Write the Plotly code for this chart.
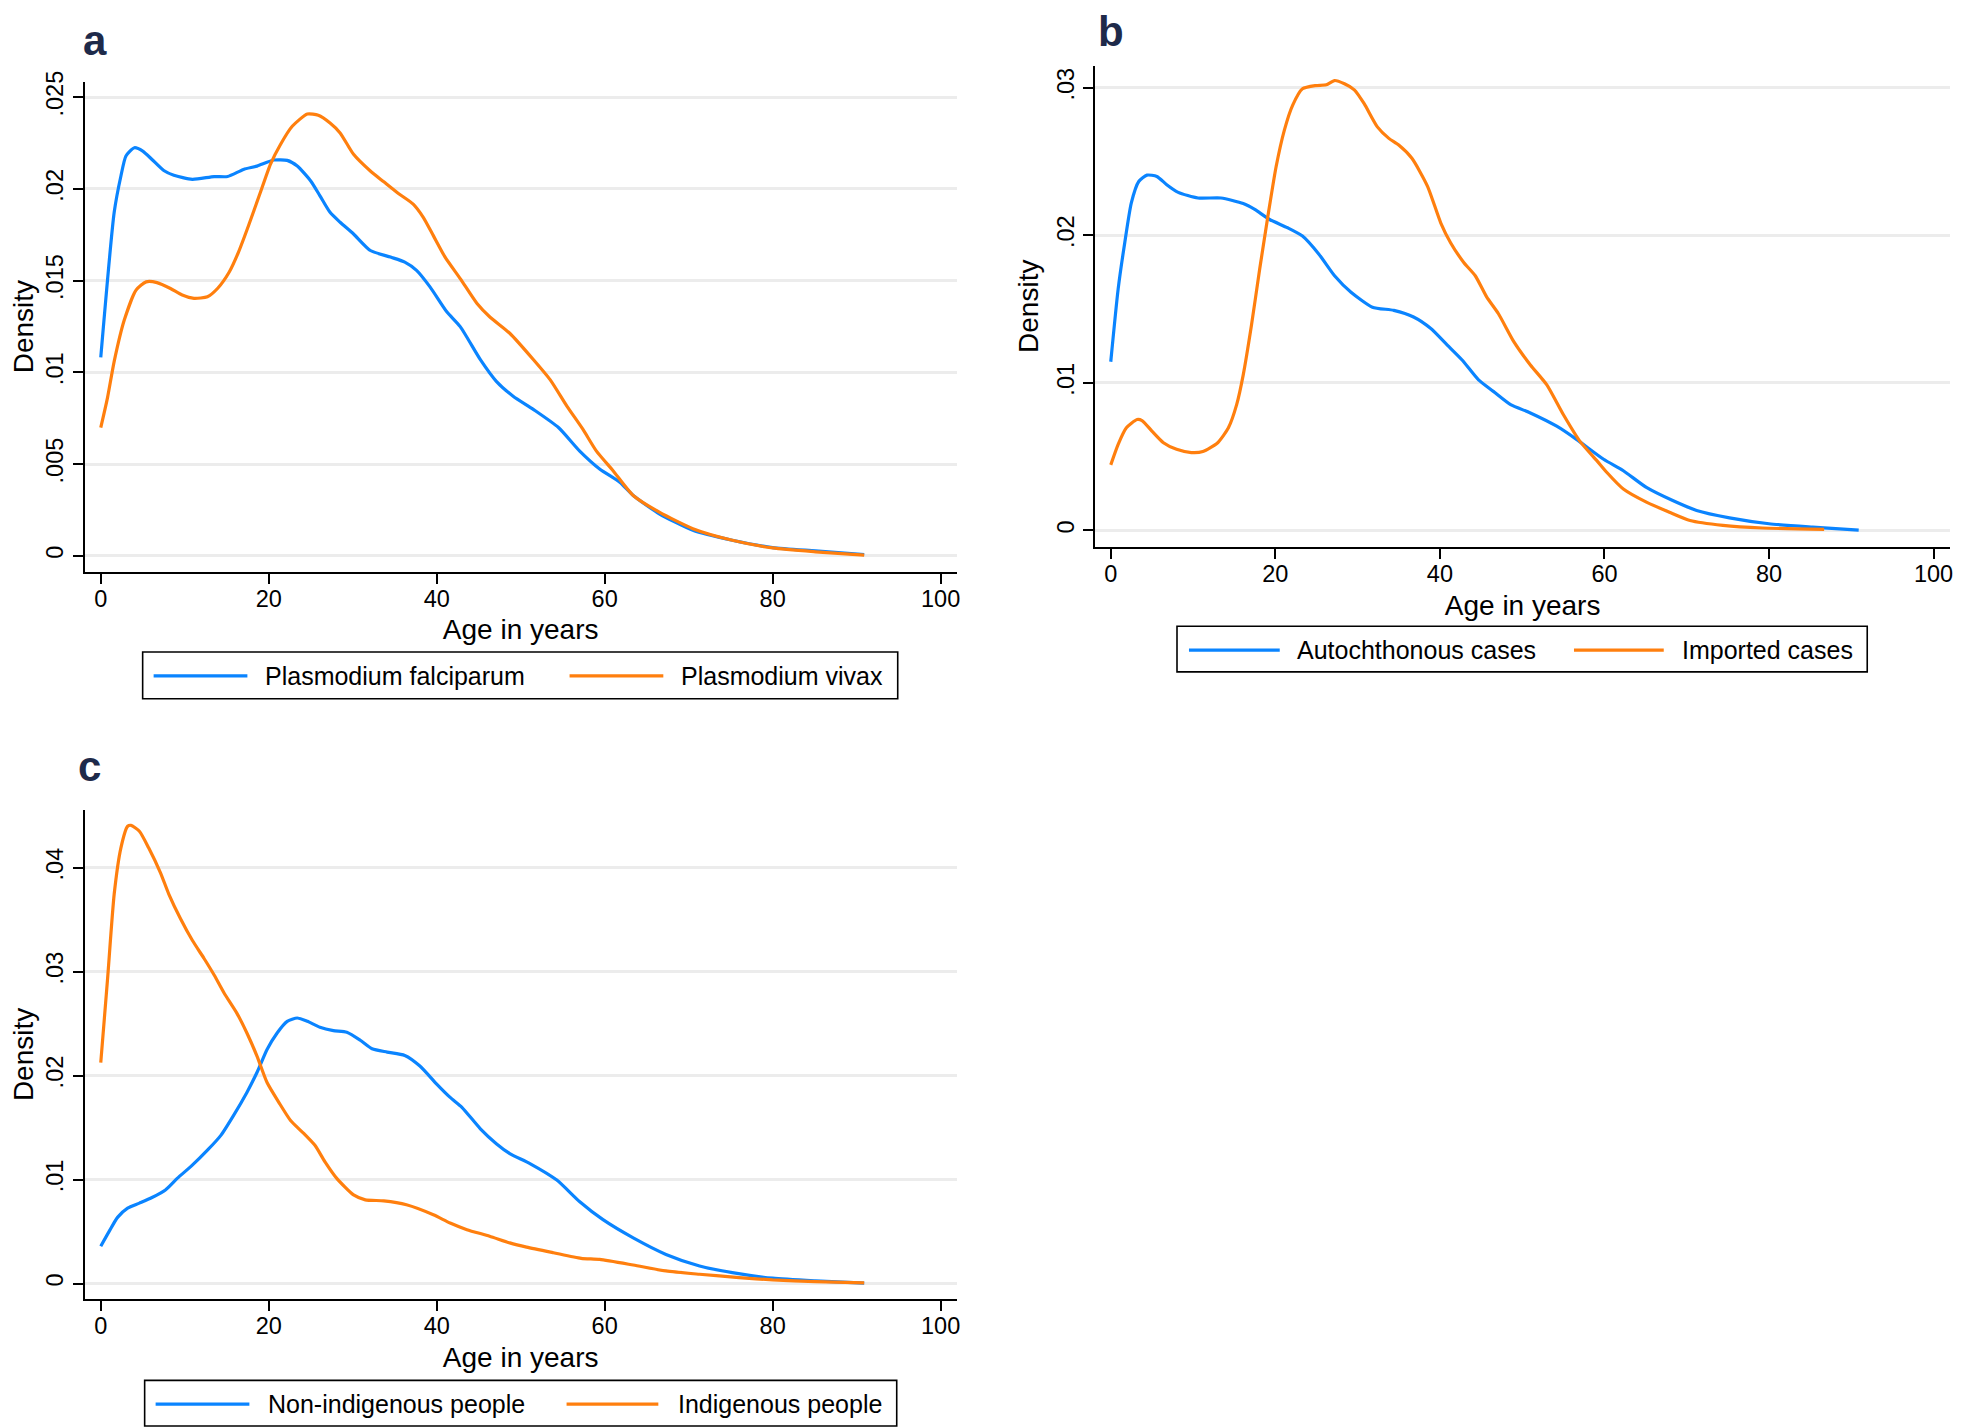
import plotly.graph_objects as go

# ---------------- data ----------------
# Panel a
a_falc_age = [0, 1.6, 2.4, 3.0, 4.0, 5.0, 6.1, 7.5, 8.7, 10.9, 13.5, 15.1, 17.0, 18.6,
              20.6, 22.2, 23.4, 25.0, 26.1, 27.3, 28.5, 30.1, 32.1, 34.5, 36.2, 37.6,
              39.2, 41.2, 42.8, 45.2, 47.1, 49.1, 51.5, 54.5, 57.0, 59.4, 61.8, 63.4,
              66.5, 70.5, 75.2, 80.0, 85.1, 90.9]
a_falc_den = [0.01081, 0.01872, 0.0207, 0.02179, 0.02224, 0.02206, 0.0216, 0.0210, 0.02074,
              0.02052, 0.02067, 0.02067, 0.02106, 0.02124, 0.02157, 0.02155, 0.02124,
              0.02043, 0.01962, 0.01872, 0.01818, 0.01754, 0.01664, 0.01628, 0.01601,
              0.01556, 0.01466, 0.0133, 0.01249, 0.01069, 0.00951, 0.0087, 0.00798,
              0.00699, 0.00572, 0.00473, 0.00401, 0.00329, 0.00229, 0.00139, 0.00085,
              0.00045, 0.00027, 0.00007]
a_viv_age = [0, 0.8, 1.6, 2.8, 4.2, 5.4, 6.7, 8.3, 9.7, 11.1, 12.7, 13.9, 15.3, 16.4,
             17.6, 19.0, 20.2, 21.4, 22.8, 24.6, 25.9, 27.3, 28.5, 30.1, 32.1, 33.7,
             35.4, 37.2, 38.4, 39.6, 41.0, 42.8, 44.8, 46.3, 48.7, 51.5, 53.5, 55.5,
             57.4, 59.0, 61.0, 63.4, 66.5, 70.5, 75.2, 80.0, 85.1, 90.9]
a_viv_den = [0.00699, 0.00861, 0.0106, 0.01285, 0.01448, 0.01493, 0.01489, 0.01457,
             0.01421, 0.01403, 0.01412, 0.01457, 0.01547, 0.01655, 0.018, 0.0198,
             0.02134, 0.02242, 0.02341, 0.02408, 0.02401, 0.02359, 0.02305, 0.02188,
             0.02097, 0.02038, 0.01976, 0.01917, 0.01845, 0.01745, 0.01628, 0.01511,
             0.01375, 0.01303, 0.01213, 0.0107, 0.0096, 0.00816, 0.0069, 0.00572,
             0.00464, 0.00329, 0.00238, 0.00148, 0.00085, 0.00043, 0.00022, 0.00004]

# Panel b
b_auto_age = [0, 0.9, 1.7, 2.5, 3.4, 4.4, 5.6, 6.8, 8.2, 10.6, 13.4, 16.1, 17.5, 19.3,
              21.5, 23.3, 25.3, 27.2, 29.2, 31.8, 34.4, 36.8, 38.9, 40.9, 42.7, 44.7,
              46.5, 48.6, 51.0, 54.2, 56.6, 59.9, 62.3, 65.1, 68.3, 71.2, 75.2, 80.0,
              85.3, 90.9]
b_auto_den = [0.01143, 0.01637, 0.0195, 0.0222, 0.02365, 0.02408, 0.02399, 0.02343,
              0.02291, 0.02253, 0.02253, 0.02215, 0.02175, 0.02107, 0.02051, 0.01995,
              0.01872, 0.01726, 0.01614, 0.01513, 0.01491, 0.01446, 0.01368, 0.01256,
              0.01155, 0.0102, 0.00942, 0.00852, 0.00796, 0.00706, 0.00617, 0.00482,
              0.00404, 0.00291, 0.00202, 0.00135, 0.00085, 0.00045, 0.00022, 0.00002]
b_imp_age = [0, 0.9, 1.9, 3.2, 3.8, 5.0, 6.4, 8.0, 9.8, 11.2, 13.0, 14.3, 15.3, 16.1,
             17.1, 18.1, 19.1, 20.1, 21.1, 22.1, 23.3, 24.9, 26.2, 27.2, 28.4, 29.6,
             30.8, 32.4, 33.8, 35.0, 36.6, 38.5, 40.1, 41.3, 42.9, 44.3, 45.7, 47.1,
             49.0, 51.0, 53.0, 55.0, 57.0, 59.1, 60.3, 62.3, 65.1, 67.9, 70.4, 74.4,
             79.2, 86.7]
b_imp_den = [0.00444, 0.00583, 0.00695, 0.00751, 0.00744, 0.00673, 0.00594, 0.00549,
             0.00527, 0.00534, 0.00594, 0.00695, 0.00852, 0.01054, 0.0139, 0.01771,
             0.0213, 0.02466, 0.02713, 0.02881, 0.02993, 0.03015, 0.0302, 0.03049,
             0.03027, 0.02986, 0.02892, 0.02735, 0.02657, 0.02612, 0.02522, 0.02332,
             0.02085, 0.0195, 0.01816, 0.01726, 0.01581, 0.0147, 0.01278, 0.01121,
             0.00986, 0.00785, 0.00605, 0.00471, 0.00392, 0.0028, 0.00191, 0.00123,
             0.00067, 0.00034, 0.00016, 0.00007]

# Panel c
c_non_age = [0, 1.0, 2.0, 3.2, 4.6, 6.1, 7.7, 9.1, 10.9, 12.7, 14.3, 15.8, 17.4, 18.6,
             19.8, 21.0, 22.2, 23.4, 24.6, 26.1, 27.7, 29.3, 30.9, 32.3, 34.1, 36.2,
             38.0, 40.0, 41.6, 43.0, 45.2, 47.1, 48.7, 51.1, 54.3, 57.0, 59.8, 63.4,
             67.3, 71.3, 75.2, 80.0, 85.1, 90.9]
c_non_den = [0.00359, 0.00502, 0.00636, 0.00725, 0.00773, 0.00827, 0.009, 0.01011,
             0.01138, 0.01282, 0.01425, 0.01615, 0.01838, 0.02029, 0.02251, 0.0241,
             0.02522, 0.02554, 0.02522, 0.02465, 0.02433, 0.02417, 0.0234, 0.02258,
             0.02226, 0.02194, 0.02092, 0.01918, 0.0179, 0.01695, 0.01488, 0.01345,
             0.0125, 0.01154, 0.00995, 0.00789, 0.00614, 0.00439, 0.0028, 0.00169,
             0.00105, 0.00051, 0.00025, 0.00004]
c_ind_age = [0, 0.8, 1.6, 2.4, 3.2, 3.6, 4.6, 5.7, 7.1, 8.1, 9.5, 10.9, 12.3, 13.5,
             14.7, 16.2, 17.4, 18.6, 19.8, 21.2, 22.6, 24.2, 25.5, 26.7, 28.1, 30.1,
             31.5, 33.7, 36.4, 39.6, 41.6, 43.6, 46.3, 48.7, 50.7, 53.9, 57.2, 59.4,
             63.4, 67.3, 71.3, 76.0, 80.0, 85.1, 90.9]
c_ind_den = [0.02124, 0.0292, 0.03746, 0.04191, 0.04398, 0.04407, 0.0435, 0.04191,
             0.03953, 0.03746, 0.03508, 0.03301, 0.03126, 0.02967, 0.02792, 0.02601,
             0.0241, 0.02188, 0.01933, 0.01743, 0.01568, 0.01441, 0.01329, 0.0117,
             0.01011, 0.00852, 0.00805, 0.00795, 0.00757, 0.00661, 0.00582, 0.00518,
             0.00455, 0.00391, 0.0035, 0.00296, 0.00242, 0.00232, 0.00178, 0.00121,
             0.00089, 0.00057, 0.00035, 0.00019, 0.00006]

x_tickvals = [0, 20, 40, 60, 80, 100]
x_ticktext = ["0", "20", "40", "60", "80", "100"]
a_yvals = [0, 0.005, 0.01, 0.015, 0.02, 0.025]
a_ytext = ["0", ".005", ".01", ".015", ".02", ".025"]
b_yvals = [0, 0.01, 0.02, 0.03]
b_ytext = ["0", ".01", ".02", ".03"]
c_yvals = [0, 0.01, 0.02, 0.03, 0.04]
c_ytext = ["0", ".01", ".02", ".03", ".04"]

a_names = ["Plasmodium falciparum", "Plasmodium vivax"]
b_names = ["Autochthonous cases", "Imported cases"]
c_names = ["Non-indigenous people", "Indigenous people"]

# ---------------- styling ----------------
OFF = 8                      # page body margin of the html page
W, H = 1961 - OFF, 1428 - OFF
BLUE = "#0a84ff"
ORANGE = "#ff7f0e"
FONT = "Liberation Sans, Arial, Helvetica, sans-serif"
LETTER = "#1e2a4a"


def fx(x):
    return (x - OFF) / W


def fy(y):
    return 1 - (y - OFF) / H


fig = go.Figure()

panels = [
    dict(sfx="", xpx=(84, 958), ypx=(71, 565), xr=[-1.9, 101.9], yr=[-0.000865, 0.02585],
         yv=a_yvals, yt=a_ytext, ystand=15,
         series=[(a_falc_age, a_falc_den, BLUE, a_names[0]), (a_viv_age, a_viv_den, ORANGE, a_names[1])]),
    dict(sfx="2", xpx=(1097, 1954), ypx=(55, 540), xr=[-1.89, 102.0], yr=[-0.00112, 0.0315],
         yv=b_yvals, yt=b_ytext, ystand=6,
         series=[(b_auto_age, b_auto_den, BLUE, b_names[0]), (b_imp_age, b_imp_den, ORANGE, b_names[1])]),
    dict(sfx="3", xpx=(84, 958), ypx=(805, 1298), xr=[-1.9, 101.9], yr=[-0.00149, 0.04556],
         yv=c_yvals, yt=c_ytext, ystand=13,
         series=[(c_non_age, c_non_den, BLUE, c_names[0]), (c_ind_age, c_ind_den, ORANGE, c_names[1])]),
]

for p in panels:
    s = p["sfx"]
    for xs, ys, col, name in p["series"]:
        fig.add_trace(go.Scatter(x=xs, y=ys, mode="lines", name=name, showlegend=False,
                                 line=dict(color=col, width=3.2, shape="spline", smoothing=0.6),
                                 xaxis="x" + s, yaxis="y" + s, hoverinfo="skip"))
    xa = dict(domain=[fx(p["xpx"][0]), fx(p["xpx"][1])], range=p["xr"], anchor="y" + s,
              tickvals=x_tickvals, ticktext=x_ticktext, showgrid=False, zeroline=False,
              showline=True, linecolor="black", linewidth=2, ticks="outside", ticklen=10,
              tickwidth=2, tickcolor="black", tickfont=dict(size=23.5, color="black", family=FONT),
              ticklabelstandoff=-5,
              title=dict(text="Age in years", font=dict(size=28, color="black", family=FONT), standoff=9),
              fixedrange=True)
    ya = dict(domain=[fy(p["ypx"][1]), fy(p["ypx"][0])], range=p["yr"], anchor="x" + s,
              tickvals=p["yv"], ticktext=p["yt"], tickangle=-90, showgrid=True,
              gridcolor="#ececec", gridwidth=2.6, zeroline=False, showline=True,
              linecolor="black", linewidth=2, ticks="outside", ticklen=10, tickwidth=2,
              tickcolor="black", tickfont=dict(size=23.5, color="black", family=FONT),
              title=dict(text="Density", font=dict(size=28, color="black", family=FONT),
                         standoff=p["ystand"]),
              fixedrange=True)
    fig.layout["xaxis" + s] = xa
    fig.layout["yaxis" + s] = ya

# ---------------- legends (boxes drawn as in the original) ----------------
shapes = []
annotations = []
legends = [
    dict(box=(142, 646, 899, 693), yc=670, l1=(153, 247), t1=263, l2=(570, 664), t2=680, names=a_names),
    dict(box=(1179, 620, 1871, 666), yc=644, l1=(1191, 1282), t1=1297, l2=(1577, 1667), t2=1683, names=b_names),
    dict(box=(144, 1380, 898, 1426), yc=1404, l1=(155, 249), t1=266, l2=(567, 659), t2=677, names=c_names),
]
for lg in legends:
    x0, y0, x1, y1 = lg["box"]
    shapes.append(dict(type="rect", xref="paper", yref="paper", x0=fx(x0), x1=fx(x1),
                       y0=fy(y1), y1=fy(y0), line=dict(color="black", width=1.6),
                       fillcolor="white", layer="above"))
    for (la, lb), tx, col, name in [(lg["l1"], lg["t1"], BLUE, lg["names"][0]),
                                    (lg["l2"], lg["t2"], ORANGE, lg["names"][1])]:
        shapes.append(dict(type="line", xref="paper", yref="paper", x0=fx(la), x1=fx(lb),
                           y0=fy(lg["yc"]), y1=fy(lg["yc"]), line=dict(color=col, width=3.2),
                           layer="above"))
        annotations.append(dict(text=name, xref="paper", yref="paper", x=fx(tx), y=fy(lg["yc"]),
                                xanchor="left", yanchor="middle", showarrow=False,
                                font=dict(size=25, color="black", family=FONT)))

# panel letters
for letter, cx, cy in [("a", 94, 30), ("b", 1113, 21), ("c", 89, 761)]:
    annotations.append(dict(text="<b>%s</b>" % letter, xref="paper", yref="paper", x=fx(cx), y=fy(cy),
                            xanchor="center", yanchor="middle", showarrow=False, borderpad=0,
                            font=dict(size=42, color=LETTER, family=FONT)))

fig.update_layout(width=W, height=H, margin=dict(l=0, r=0, t=0, b=0),
                  paper_bgcolor="white", plot_bgcolor="white",
                  shapes=shapes, annotations=annotations, showlegend=False,
                  font=dict(family=FONT, color="black"))

fig.write_html("out.html")
